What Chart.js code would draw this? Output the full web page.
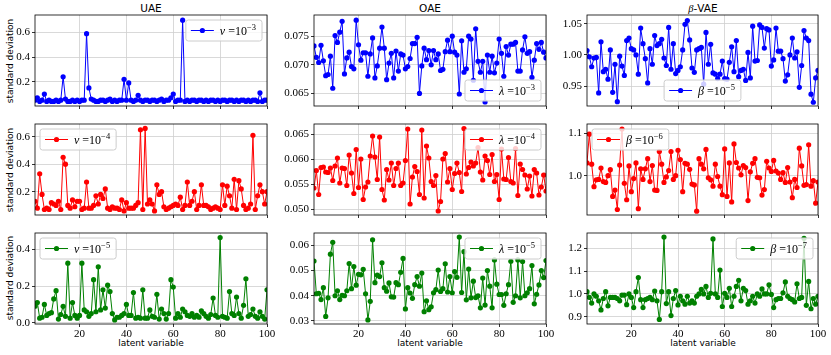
<!DOCTYPE html>
<html>
<head>
<meta charset="utf-8">
<script src="https://cdn.jsdelivr.net/npm/chart.js@4.4.0/dist/chart.umd.min.js"></script>
<style>
body { margin: 0; background: #fff; width: 831px; height: 355px; position: relative; overflow: hidden; font-family: "DejaVu Sans", sans-serif; }
canvas { position: absolute; }
.lbl { position: absolute; white-space: nowrap; color: #000; transform: translate(-50%, -50%); }
.ttl { font-size: 10.5px; }
.ax { font-size: 9px; }
.rot { transform: translate(-50%, -50%) rotate(-90deg); }
</style>
</head>
<body>
<div class="lbl ttl" style="left:151px;top:8px">UAE</div>
<div class="lbl ttl" style="left:430px;top:8px">OAE</div>
<div class="lbl ttl" style="left:703px;top:8px"><i style="font-family:'Liberation Serif'">β</i>-VAE</div>
<div class="lbl ax rot" style="left:10px;top:61px">standard deviation</div>
<div class="lbl ax rot" style="left:10px;top:170px">standard deviation</div>
<div class="lbl ax rot" style="left:10px;top:278px">standard deviation</div>
<div class="lbl ax" style="left:151px;top:343px">latent variable</div>
<div class="lbl ax" style="left:430px;top:343px">latent variable</div>
<div class="lbl ax" style="left:703px;top:343px">latent variable</div>
<script>
// latent variable index 1..100
const latent = Array.from({ length: 100 }, (_, i) => i + 1);
const xTicks = [20, 40, 60, 80, 100];

// UAE, nu = 1e-3
const uae3 = [0.05,0.07,0.04,0.05,0.10,0.04,0.05,0.04,0.04,0.05,
  0.04,0.05,0.24,0.06,0.04,0.04,0.05,0.04,0.05,0.04,
  0.05,0.05,0.59,0.15,0.06,0.05,0.04,0.04,0.05,0.05,
  0.04,0.05,0.06,0.04,0.05,0.04,0.05,0.05,0.22,0.05,
  0.19,0.05,0.04,0.05,0.09,0.05,0.04,0.05,0.05,0.04,
  0.05,0.05,0.04,0.05,0.06,0.04,0.05,0.05,0.07,0.10,
  0.04,0.05,0.05,0.70,0.04,0.05,0.04,0.05,0.05,0.04,
  0.05,0.05,0.04,0.05,0.04,0.05,0.05,0.04,0.05,0.04,
  0.05,0.05,0.04,0.05,0.05,0.04,0.05,0.04,0.05,0.05,
  0.04,0.05,0.04,0.05,0.05,0.04,0.11,0.04,0.05,0.05];
// OAE, lambda = 1e-3
const oae3 = [0.0733,0.0713,0.0704,0.0734,0.0707,0.0681,0.0683,0.0715,0.0659,0.0751,
  0.0739,0.0757,0.0776,0.0684,0.0712,0.0722,0.0697,0.0693,0.0778,0.0735,
  0.0708,0.0721,0.0721,0.0680,0.0719,0.0747,0.0677,0.0698,0.0729,0.0766,
  0.0729,0.0674,0.0703,0.0720,0.0677,0.0724,0.0689,0.0719,0.0717,0.0693,
  0.0697,0.0711,0.0737,0.0737,0.0748,0.0650,0.0698,0.0729,0.0709,0.0725,
  0.0700,0.0725,0.0709,0.0719,0.0690,0.0692,0.0723,0.0743,0.0723,0.0750,
  0.0722,0.0717,0.0649,0.0742,0.0687,0.0693,0.0750,0.0745,0.0673,0.0763,
  0.0706,0.0687,0.0706,0.0635,0.0717,0.0687,0.0715,0.0686,0.0703,0.0745,
  0.0720,0.0680,0.0732,0.0717,0.0736,0.0736,0.0739,0.0689,0.0689,0.0726,
  0.0749,0.0720,0.0723,0.0678,0.0708,0.0737,0.0727,0.0739,0.0722,0.0712];
// beta-VAE, beta = 1e-5
const vae5 = [1.007,0.997,0.981,0.995,0.996,0.939,1.021,0.973,0.977,0.961,
  1.008,0.940,0.985,0.925,0.998,0.982,0.967,1.023,1.027,1.010,
  1.008,1.000,0.969,1.043,1.018,0.994,0.955,1.010,0.985,1.031,
  1.015,1.018,1.025,0.995,0.983,1.044,0.977,1.018,0.970,0.975,
  0.981,1.008,1.049,1.055,1.024,0.979,0.972,1.008,1.010,1.012,
  0.953,1.036,0.985,1.017,0.971,0.969,0.962,0.969,0.990,0.962,
  0.961,0.988,1.013,0.973,1.023,0.965,0.975,0.977,0.959,1.004,
  0.963,1.046,0.990,0.991,1.048,1.044,1.011,1.042,1.040,0.982,
  0.992,1.043,1.006,1.006,0.994,0.958,0.968,1.000,1.027,0.995,
  1.005,0.948,0.983,1.039,1.027,1.023,0.937,0.924,0.963,0.975];
// UAE, nu = 1e-4
const uae4 = [0.13,0.08,0.33,0.18,0.07,0.08,0.07,0.12,0.11,0.10,
  0.13,0.07,0.45,0.40,0.10,0.08,0.14,0.09,0.13,0.13,
  0.07,0.08,0.27,0.08,0.08,0.10,0.17,0.11,0.18,0.15,
  0.22,0.08,0.07,0.09,0.08,0.08,0.07,0.14,0.06,0.12,
  0.08,0.08,0.08,0.10,0.12,0.65,0.07,0.66,0.11,0.14,
  0.11,0.06,0.25,0.18,0.20,0.09,0.07,0.08,0.09,0.10,
  0.11,0.10,0.16,0.07,0.10,0.27,0.10,0.13,0.20,0.07,
  0.10,0.25,0.10,0.10,0.09,0.07,0.08,0.09,0.08,0.07,
  0.25,0.10,0.24,0.17,0.08,0.29,0.07,0.28,0.22,0.10,
  0.07,0.08,0.11,0.61,0.07,0.17,0.25,0.20,0.11,0.20];
// OAE, lambda = 1e-4
const oae4 = [0.0543,0.0578,0.0530,0.0584,0.0585,0.0575,0.0574,0.0583,0.0558,0.0587,
  0.0603,0.0553,0.0583,0.0582,0.0548,0.0609,0.0573,0.0532,0.0620,0.0544,
  0.0601,0.0520,0.0545,0.0555,0.0607,0.0647,0.0605,0.0560,0.0645,0.0540,
  0.0519,0.0580,0.0559,0.0593,0.0548,0.0582,0.0593,0.0548,0.0553,0.0598,
  0.0661,0.0511,0.0565,0.0586,0.0576,0.0530,0.0659,0.0523,0.0627,0.0603,
  0.0556,0.0548,0.0568,0.0497,0.0516,0.0601,0.0612,0.0555,0.0582,0.0540,
  0.0572,0.0593,0.0574,0.0536,0.0662,0.0571,0.0584,0.0595,0.0587,0.0593,
  0.0624,0.0575,0.0559,0.0607,0.0598,0.0570,0.0610,0.0556,0.0570,0.0520,
  0.0621,0.0561,0.0560,0.0604,0.0556,0.0553,0.0622,0.0528,0.0591,0.0580,
  0.0569,0.0541,0.0567,0.0527,0.0580,0.0573,0.0529,0.0545,0.0569,0.0537];
// beta-VAE, beta = 1e-6
const vae6 = [1.030,1.098,1.027,0.974,0.990,0.991,1.018,0.986,0.984,1.000,
  1.014,0.951,0.966,0.920,1.025,1.110,0.982,0.943,1.023,0.962,
  0.993,1.030,0.922,1.016,0.991,1.016,1.040,0.986,1.024,0.966,
  0.965,1.057,1.027,0.984,0.997,1.012,1.057,0.991,1.000,1.060,
  1.038,0.962,1.029,1.027,1.015,0.980,0.978,0.916,1.040,1.027,
  1.016,1.062,0.995,0.990,0.975,1.027,0.998,0.975,0.955,1.063,
  0.951,1.030,0.938,1.075,1.031,1.018,1.002,1.024,1.019,0.941,
  1.009,1.029,1.040,0.996,0.995,0.954,0.967,1.034,1.018,1.010,
  1.036,1.011,1.006,0.991,1.007,0.984,1.019,0.985,0.948,0.991,
  0.972,1.065,1.023,0.977,0.979,1.073,0.975,0.988,0.935,0.985];
// UAE, nu = 1e-5
const uae5 = [0.090,0.110,0.025,0.030,0.100,0.040,0.050,0.055,0.130,0.175,
  0.020,0.045,0.090,0.035,0.325,0.025,0.110,0.040,0.025,0.040,
  0.325,0.070,0.060,0.035,0.050,0.235,0.060,0.305,0.070,0.180,
  0.080,0.205,0.170,0.050,0.015,0.030,0.030,0.040,0.050,0.100,
  0.040,0.040,0.165,0.025,0.030,0.025,0.180,0.025,0.025,0.070,
  0.035,0.030,0.155,0.020,0.075,0.050,0.020,0.050,0.235,0.195,
  0.025,0.050,0.030,0.075,0.060,0.040,0.035,0.050,0.030,0.040,
  0.030,0.065,0.050,0.035,0.025,0.045,0.135,0.040,0.030,0.465,
  0.035,0.030,0.025,0.170,0.050,0.040,0.140,0.050,0.025,0.095,
  0.240,0.035,0.045,0.075,0.035,0.025,0.060,0.035,0.020,0.180];
// OAE, lambda = 1e-5
const oae5 = [0.0538,0.0408,0.0410,0.0385,0.0432,0.0318,0.0392,0.0565,0.0612,0.0400,
  0.0420,0.0385,0.0402,0.0400,0.0420,0.0528,0.0428,0.0516,0.0442,0.0485,
  0.0483,0.0505,0.0408,0.0304,0.0378,0.0622,0.0452,0.0482,0.0476,0.0531,
  0.0432,0.0418,0.0451,0.0396,0.0395,0.0452,0.0444,0.0493,0.0548,0.0348,
  0.0432,0.0411,0.0390,0.0444,0.0476,0.0438,0.0490,0.0337,0.0380,0.0345,
  0.0356,0.0412,0.0424,0.0502,0.0417,0.0428,0.0527,0.0415,0.0476,0.0412,
  0.0496,0.0473,0.0633,0.0413,0.0575,0.0384,0.0506,0.0392,0.0458,0.0393,
  0.0400,0.0352,0.0470,0.0363,0.0500,0.0438,0.0352,0.0542,0.0446,0.0405,
  0.0405,0.0362,0.0408,0.0444,0.0537,0.0374,0.0400,0.0542,0.0392,0.0536,
  0.0400,0.0412,0.0428,0.0520,0.0368,0.0406,0.0443,0.0500,0.0472,0.0540];
// beta-VAE, beta = 1e-7
const vae7 = [1.010,0.985,0.960,1.000,0.990,0.970,0.930,0.980,1.010,0.948,
  0.985,0.985,0.985,0.980,0.970,0.995,0.995,0.953,1.000,0.985,
  0.940,1.010,1.072,0.975,0.940,0.975,0.980,0.985,0.975,1.013,
  0.970,0.888,1.010,1.250,0.958,1.010,0.905,0.980,1.015,0.952,
  0.990,0.970,0.955,0.990,0.960,0.970,0.960,0.990,1.000,1.020,
  1.000,1.033,0.985,1.003,1.242,1.000,0.985,1.105,0.945,1.003,
  0.985,1.025,0.945,0.990,1.033,1.060,0.970,1.025,1.015,0.955,
  0.970,0.990,0.960,1.000,0.990,1.022,1.000,1.000,1.040,0.998,
  0.940,0.975,0.980,0.980,1.005,1.053,0.990,0.980,0.975,0.965,
  1.045,0.980,0.985,1.245,0.950,1.055,0.935,0.980,0.955,0.990];

// y tick labels per panel
const yt1 = ['0.2', '0.4', '0.6'];
const yt2 = ['0.065', '0.070', '0.075'];
const yt3 = ['0.95', '1.00', '1.05'];
const yt4 = ['0.2', '0.4', '0.6'];
const yt5 = ['0.050', '0.055', '0.060', '0.065'];
const yt6 = ['1.0', '1.1'];
const yt7 = ['0.0', '0.2', '0.4'];
const yt8 = ['0.03', '0.04', '0.05', '0.06'];
const yt9 = ['0.9', '1.0', '1.1', '1.2'];

// y axis limits per panel
const yl1 = [0.003, 0.742];
const yl2 = [0.0628, 0.0787];
const yl3 = [0.918, 1.064];
const yl4 = [0.030, 0.692];
const yl5 = [0.0489, 0.0671];
const yl6 = [0.907, 1.122];
const yl7 = [-0.007, 0.490];
const yl8 = [0.0288, 0.0649];
const yl9 = [0.868, 1.268];

const lefts = [35, 314, 587];
const widths = [232, 232, 231];
const tops = [15, 124, 233];
const plotH = 91;

const panels = [
  { data: uae3, color: '#0000ff', sym: 'ν', exp: '−3', loc: 'ur', yt: yt1, yl: yl1, row: 0, col: 0 },
  { data: oae3, color: '#0000ff', sym: 'λ', exp: '−3', loc: 'lr', yt: yt2, yl: yl2, row: 0, col: 1 },
  { data: vae5, color: '#0000ff', sym: 'β', exp: '−5', loc: 'lc', yt: yt3, yl: yl3, row: 0, col: 2 },
  { data: uae4, color: '#ff0000', sym: 'ν', exp: '−4', loc: 'ul', yt: yt4, yl: yl4, row: 1, col: 0 },
  { data: oae4, color: '#ff0000', sym: 'λ', exp: '−4', loc: 'ur', yt: yt5, yl: yl5, row: 1, col: 1 },
  { data: vae6, color: '#ff0000', sym: 'β', exp: '−6', loc: 'ul', yt: yt6, yl: yl6, row: 1, col: 2 },
  { data: uae5, color: '#008000', sym: 'ν', exp: '−5', loc: 'ul', yt: yt7, yl: yl7, row: 2, col: 0 },
  { data: oae5, color: '#008000', sym: 'λ', exp: '−5', loc: 'ur', yt: yt8, yl: yl8, row: 2, col: 1 },
  { data: vae7, color: '#008000', sym: 'β', exp: '−7', loc: 'ur', yt: yt9, yl: yl9, row: 2, col: 2 }
];

const SERIF = '"Liberation Serif", "DejaVu Serif", serif';

// black box round the plot area
const frame = {
  id: 'frame',
  afterDraw(chart) {
    const { ctx, chartArea: a } = chart;
    ctx.save();
    ctx.strokeStyle = '#000';
    ctx.lineWidth = 0.8;
    ctx.strokeRect(a.left, a.top, a.right - a.left, a.bottom - a.top);
    ctx.restore();
  }
};

// matplotlib-like legend: line + marker, then "sym =10^exp"
const legendBox = {
  id: 'legendBox',
  afterDatasetsDraw(chart, args, o) {
    const { ctx, chartArea: a } = chart;
    ctx.save();
    ctx.font = 'italic 12px ' + SERIF;
    const w1 = ctx.measureText(o.sym).width;
    ctx.font = '12px ' + SERIF;
    const w2 = ctx.measureText(' =10').width;
    ctx.font = '8.5px ' + SERIF;
    const w3 = ctx.measureText(o.exp).width;
    const w = 34 + w1 + w2 + w3 + 6, h = 21, pad = 5;
    let x;
    if (o.loc[1] === 'r') x = a.right - pad - w;
    else if (o.loc[1] === 'l') x = a.left + pad;
    else x = (a.left + a.right - w) / 2;
    const y = o.loc[0] === 'u' ? a.top + pad : a.bottom - pad - h;

    ctx.beginPath();
    ctx.roundRect(x, y, w, h, 2.5);
    ctx.fillStyle = 'rgba(255,255,255,0.8)';
    ctx.fill();
    ctx.strokeStyle = '#cccccc';
    ctx.lineWidth = 1;
    ctx.stroke();

    const cy = y + h / 2;
    ctx.strokeStyle = o.color;
    ctx.lineWidth = 1;
    ctx.beginPath();
    ctx.moveTo(x + 5, cy);
    ctx.lineTo(x + 28, cy);
    ctx.stroke();
    ctx.fillStyle = o.color;
    ctx.beginPath();
    ctx.arc(x + 16.5, cy, 2.6, 0, Math.PI * 2);
    ctx.fill();

    ctx.fillStyle = '#000';
    ctx.textBaseline = 'alphabetic';
    let tx = x + 34;
    const by = cy + 4;
    ctx.font = 'italic 12px ' + SERIF;
    ctx.fillText(o.sym, tx, by);
    tx += w1;
    ctx.font = '12px ' + SERIF;
    ctx.fillText(' =10', tx, by);
    tx += w2;
    ctx.font = '8.5px ' + SERIF;
    ctx.fillText(o.exp, tx, by - 5);
    ctx.restore();
  }
};

const L = 50, R = 16, T = 10, B = 24;

panels.forEach(p => {
  const c = document.createElement('canvas');
  const w = widths[p.col];
  c.width = w + L + R;
  c.height = plotH + T + B;
  c.style.left = (lefts[p.col] - L) + 'px';
  c.style.top = (tops[p.row] - T) + 'px';
  document.body.appendChild(c);

  const yVals = p.yt.map(Number);
  new Chart(c, {
    type: 'line',
    data: {
      datasets: [{
        data: p.data.map((v, i) => ({ x: latent[i], y: v })),
        borderColor: p.color,
        backgroundColor: p.color,
        pointBackgroundColor: p.color,
        borderWidth: 1,
        pointRadius: 2.6,
        pointBorderWidth: 0,
        tension: 0,
        fill: false
      }]
    },
    options: {
      responsive: false,
      animation: false,
      events: [],
      layout: { padding: { left: 0, top: T, right: R, bottom: 0 } },
      plugins: {
        legend: { display: false },
        tooltip: { enabled: false },
        legendBox: { sym: p.sym, exp: p.exp, loc: p.loc, color: p.color }
      },
      scales: {
        x: {
          type: 'linear',
          min: 1,
          max: 100,
          afterBuildTicks: s => { s.ticks = xTicks.map(v => ({ value: v })); },
          afterFit: s => { s.height = B; s.paddingLeft = 0; s.paddingRight = 0; },
          border: { display: false },
          grid: { color: '#cfcfcf', lineWidth: 0.8, tickColor: '#000', tickLength: 3, tickWidth: 0.8 },
          ticks: {
            display: p.row === 2,
            autoSkip: false,
            maxRotation: 0,
            padding: 1,
            color: '#000',
            font: { family: SERIF, size: 11 }
          }
        },
        y: {
          min: p.yl[0],
          max: p.yl[1],
          afterBuildTicks: s => { s.ticks = yVals.map(v => ({ value: v })); },
          afterFit: s => { s.width = L; s.paddingTop = 0; s.paddingBottom = 0; },
          border: { display: false },
          grid: { color: '#cfcfcf', lineWidth: 0.8, tickColor: '#000', tickLength: 3, tickWidth: 0.8 },
          ticks: {
            autoSkip: false,
            padding: 2,
            color: '#000',
            font: { family: SERIF, size: 11 },
            callback: v => p.yt[yVals.indexOf(v)]
          }
        }
      }
    },
    plugins: [frame, legendBox]
  });
});
</script>
</body>
</html>
